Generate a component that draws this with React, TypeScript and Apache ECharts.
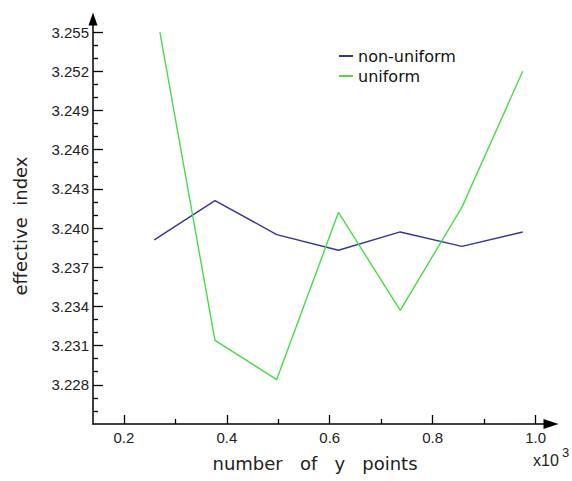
import { useEffect, useRef } from "react";
import * as echarts from "echarts";

// Effective index against number of y points (x10^3)
const nonUniformX = [0.259, 0.377, 0.497, 0.617, 0.737, 0.857, 0.975];
const nonUniformY = [3.2391, 3.2421, 3.2395, 3.2383, 3.2397, 3.2386, 3.2397];
const uniformX = [0.27, 0.377, 0.497, 0.617, 0.737, 0.857, 0.975];
const uniformY = [3.255, 3.2314, 3.2284, 3.2412, 3.2337, 3.2416, 3.252];

const xMajorTicks = [0.2, 0.4, 0.6, 0.8, 1.0];
const xMinorTicks = [0.3, 0.5, 0.7, 0.9];
const yMajorTicks = [3.228, 3.231, 3.234, 3.237, 3.24, 3.243, 3.246, 3.249, 3.252, 3.255];
const yMinorTicks = [
  3.226, 3.227, 3.229, 3.23, 3.232, 3.233, 3.235, 3.236, 3.238, 3.239,
  3.241, 3.242, 3.244, 3.245, 3.247, 3.248, 3.25, 3.251, 3.253, 3.254,
];

const seriesNames = ["non-uniform", "uniform"];
const seriesColors = ["#34349e", "#48dc48"];

const X_MIN = 0.14;
const X_MAX = 1.03;
const Y_MIN = 3.225;
const Y_MAX = 3.256;

const AXIS_COLOR = "#000";
const LABEL_FONT = "Liberation Sans";
const TITLE_FONT = "DejaVu Sans";
const nb = "\u00a0";

function pairs(xs: number[], ys: number[]): number[][] {
  return xs.map((x, i) => [x, ys[i]]);
}

export default function App() {
  const ref = useRef<HTMLDivElement>(null);

  useEffect(() => {
    if (!ref.current) return;
    const chart = echarts.init(ref.current, null, { renderer: "svg" });
    const tickLine = { color: AXIS_COLOR, width: 1.3 };

    chart.setOption({
      animation: false,
      backgroundColor: "#fff",
      grid: { left: 93, right: 21, top: 19, bottom: 57 },
      legend: {
        orient: "vertical",
        left: 339,
        top: 48,
        padding: 0,
        itemWidth: 14,
        itemHeight: 2,
        itemGap: 4,
        icon: "rect",
        data: seriesNames,
        textStyle: {
          fontFamily: TITLE_FONT,
          fontSize: 16,
          lineHeight: 16,
          color: "#111",
        },
      },
      xAxis: [
        {
          type: "value",
          min: X_MIN,
          max: X_MAX,
          position: "bottom",
          axisLine: {
            show: true,
            onZero: false,
            lineStyle: { color: AXIS_COLOR, width: 1.5 },
            symbol: ["none", "triangle"],
            symbolSize: [10, 15],
          },
          axisTick: {
            show: true,
            inside: true,
            length: 9,
            customValues: xMajorTicks,
            lineStyle: tickLine,
          },
          axisLabel: {
            customValues: xMajorTicks,
            formatter: (v: number) => v.toFixed(1),
            margin: 6,
            fontSize: 15,
            fontFamily: LABEL_FONT,
            color: "#222",
          },
          splitLine: { show: false },
        },
        {
          type: "value",
          min: X_MIN,
          max: X_MAX,
          position: "bottom",
          axisLine: { show: false, onZero: false },
          axisTick: {
            show: true,
            inside: true,
            length: 5,
            customValues: xMinorTicks,
            lineStyle: tickLine,
          },
          axisLabel: { show: false },
          splitLine: { show: false },
        },
      ],
      yAxis: [
        {
          type: "value",
          min: Y_MIN,
          max: Y_MAX,
          position: "left",
          axisLine: {
            show: true,
            onZero: false,
            lineStyle: { color: AXIS_COLOR, width: 1.5 },
            symbol: ["none", "triangle"],
            symbolSize: [9, 13],
          },
          axisTick: {
            show: true,
            inside: true,
            length: 10,
            customValues: yMajorTicks,
            lineStyle: tickLine,
          },
          axisLabel: {
            customValues: yMajorTicks,
            formatter: (v: number) => v.toFixed(3),
            margin: 4,
            fontSize: 15,
            fontFamily: LABEL_FONT,
            color: "#222",
          },
          splitLine: { show: false },
        },
        {
          type: "value",
          min: Y_MIN,
          max: Y_MAX,
          position: "left",
          axisLine: { show: false, onZero: false },
          axisTick: {
            show: true,
            inside: true,
            length: 5,
            customValues: yMinorTicks,
            lineStyle: tickLine,
          },
          axisLabel: { show: false },
          splitLine: { show: false },
        },
      ],
      series: [
        {
          name: seriesNames[0],
          type: "line",
          xAxisIndex: 0,
          yAxisIndex: 0,
          data: pairs(nonUniformX, nonUniformY),
          symbol: "none",
          color: seriesColors[0],
          lineStyle: { color: seriesColors[0], width: 1.4 },
        },
        {
          name: seriesNames[1],
          type: "line",
          xAxisIndex: 0,
          yAxisIndex: 0,
          data: pairs(uniformX, uniformY),
          symbol: "none",
          color: seriesColors[1],
          lineStyle: { color: seriesColors[1], width: 1.4 },
        },
      ],
      graphic: [
        {
          type: "text",
          x: 315,
          y: 463,
          style: {
            text: `number${nb}${nb}${nb}of${nb}${nb}${nb}y${nb}${nb}${nb}points`,
            fontFamily: TITLE_FONT,
            fontSize: 18,
            fill: "#222",
            align: "center",
            verticalAlign: "middle",
            textAlign: "center",
            textVerticalAlign: "middle",
          },
        },
        {
          type: "text",
          x: 20,
          y: 226,
          rotation: Math.PI / 2,
          style: {
            text: `effective${nb}${nb}index`,
            fontFamily: TITLE_FONT,
            fontSize: 18,
            fill: "#222",
            align: "center",
            verticalAlign: "middle",
            textAlign: "center",
            textVerticalAlign: "middle",
          },
        },
        {
          type: "text",
          x: 533,
          y: 460,
          style: {
            text: "x10",
            fontFamily: LABEL_FONT,
            fontSize: 16,
            fill: "#222",
            verticalAlign: "middle",
            textVerticalAlign: "middle",
          },
        },
        {
          type: "text",
          x: 562,
          y: 452,
          style: {
            text: "3",
            fontFamily: LABEL_FONT,
            fontSize: 13,
            fill: "#222",
            verticalAlign: "middle",
            textVerticalAlign: "middle",
          },
        },
      ],
    });

    return () => chart.dispose();
  }, []);

  return (
    <div
      ref={ref}
      style={{ position: "absolute", left: 0, top: 0, width: 572, height: 481 }}
    />
  );
}
